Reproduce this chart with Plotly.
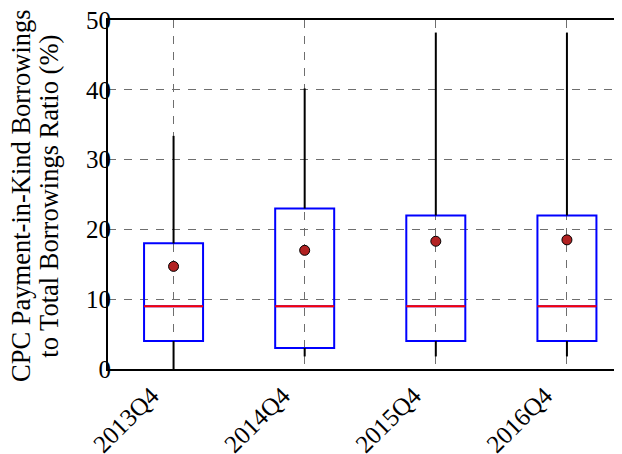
import plotly.graph_objects as go

categories = ["2013Q4", "2014Q4", "2015Q4", "2016Q4"]
positions = [1, 2, 3, 4]
lower_whisker = [0.0, 1.8, 1.8, 1.8]
q1 = [4.0, 3.0, 4.0, 4.0]
median = [9.0, 9.0, 9.0, 9.0]
q3 = [18.0, 23.0, 22.0, 22.0]
upper_whisker = [33.4, 40.2, 48.2, 48.2]
mean = [14.7, 17.0, 18.3, 18.5]
y_ticks = [0, 10, 20, 30, 40, 50]
y_title_lines = ["CPC Payment-in-Kind Borrowings", "to Total Borrowings Ratio (%)"]

FONT = "Liberation Serif"
BOX_W = 0.45

# whisker segments built from the data arrays
wx, wy = [], []
for p, lo, a, b, hi in zip(positions, lower_whisker, q1, q3, upper_whisker):
    wx += [p, p, None, p, p, None]
    wy += [lo, a, None, b, hi, None]

fig = go.Figure()
fig.add_trace(go.Scatter(x=wx, y=wy, mode="lines",
                         line=dict(color="black", width=2),
                         hoverinfo="skip", showlegend=False))
fig.add_trace(go.Box(x=positions, q1=q1, median=median, q3=q3,
                     lowerfence=q1, upperfence=q3, width=BOX_W,
                     line=dict(color="#0000ff", width=2),
                     fillcolor="rgba(0,0,0,0)", whiskerwidth=0,
                     boxpoints=False, hoverinfo="skip", showlegend=False))
fig.add_trace(go.Box(x=positions, q1=median, median=median, q3=median,
                     lowerfence=median, upperfence=median, width=BOX_W,
                     line=dict(color="#ff0000", width=2),
                     fillcolor="rgba(0,0,0,0)", whiskerwidth=0,
                     boxpoints=False, hoverinfo="skip", showlegend=False))
fig.add_trace(go.Scatter(x=positions, y=mean, mode="markers",
                         marker=dict(color="#b22222", size=10,
                                     line=dict(color="black", width=1)),
                         hoverinfo="skip", showlegend=False))

# the page body adds an 8px offset, so the margins compensate for it
fig.update_layout(
    width=622, height=454,
    margin=dict(l=100, r=8, t=12, b=93, autoexpand=False),
    paper_bgcolor="white", plot_bgcolor="white",
    font=dict(family=FONT, color="black", size=25),
    boxmode="overlay",
)
fig.update_xaxes(
    range=[0.5, 4.42], tickvals=positions, ticktext=categories,
    tickangle=-45, tickfont=dict(size=25, family=FONT),
    ticklabelshift=-22, ticklabeloverflow="allow",
    showline=True, linecolor="black", linewidth=2, mirror=True,
    showgrid=True, gridcolor="#6e6e6e", gridwidth=1, griddash="8px,8px",
    ticks="", zeroline=False, automargin=False,
)
fig.update_yaxes(
    range=[0, 50], tickvals=y_ticks,
    tickfont=dict(size=25, family=FONT), ticklabelstandoff=-10,
    ticklabeloverflow="allow",
    showline=True, linecolor="black", linewidth=2, mirror=False,
    showgrid=True, gridcolor="#6e6e6e", gridwidth=1, griddash="8px,8px",
    ticks="", zeroline=False, automargin=False,
)
# two-line y-axis title, placed as rotated text to the left of the tick labels
for line_text, xpos in zip(y_title_lines, [-0.168, -0.114]):
    fig.add_annotation(text=line_text, textangle=-90, xref="paper", yref="paper",
                       x=xpos, y=0.495, xanchor="center", yanchor="middle",
                       showarrow=False, font=dict(size=26.5, family=FONT, color="black"))

fig.write_html("out.html")
